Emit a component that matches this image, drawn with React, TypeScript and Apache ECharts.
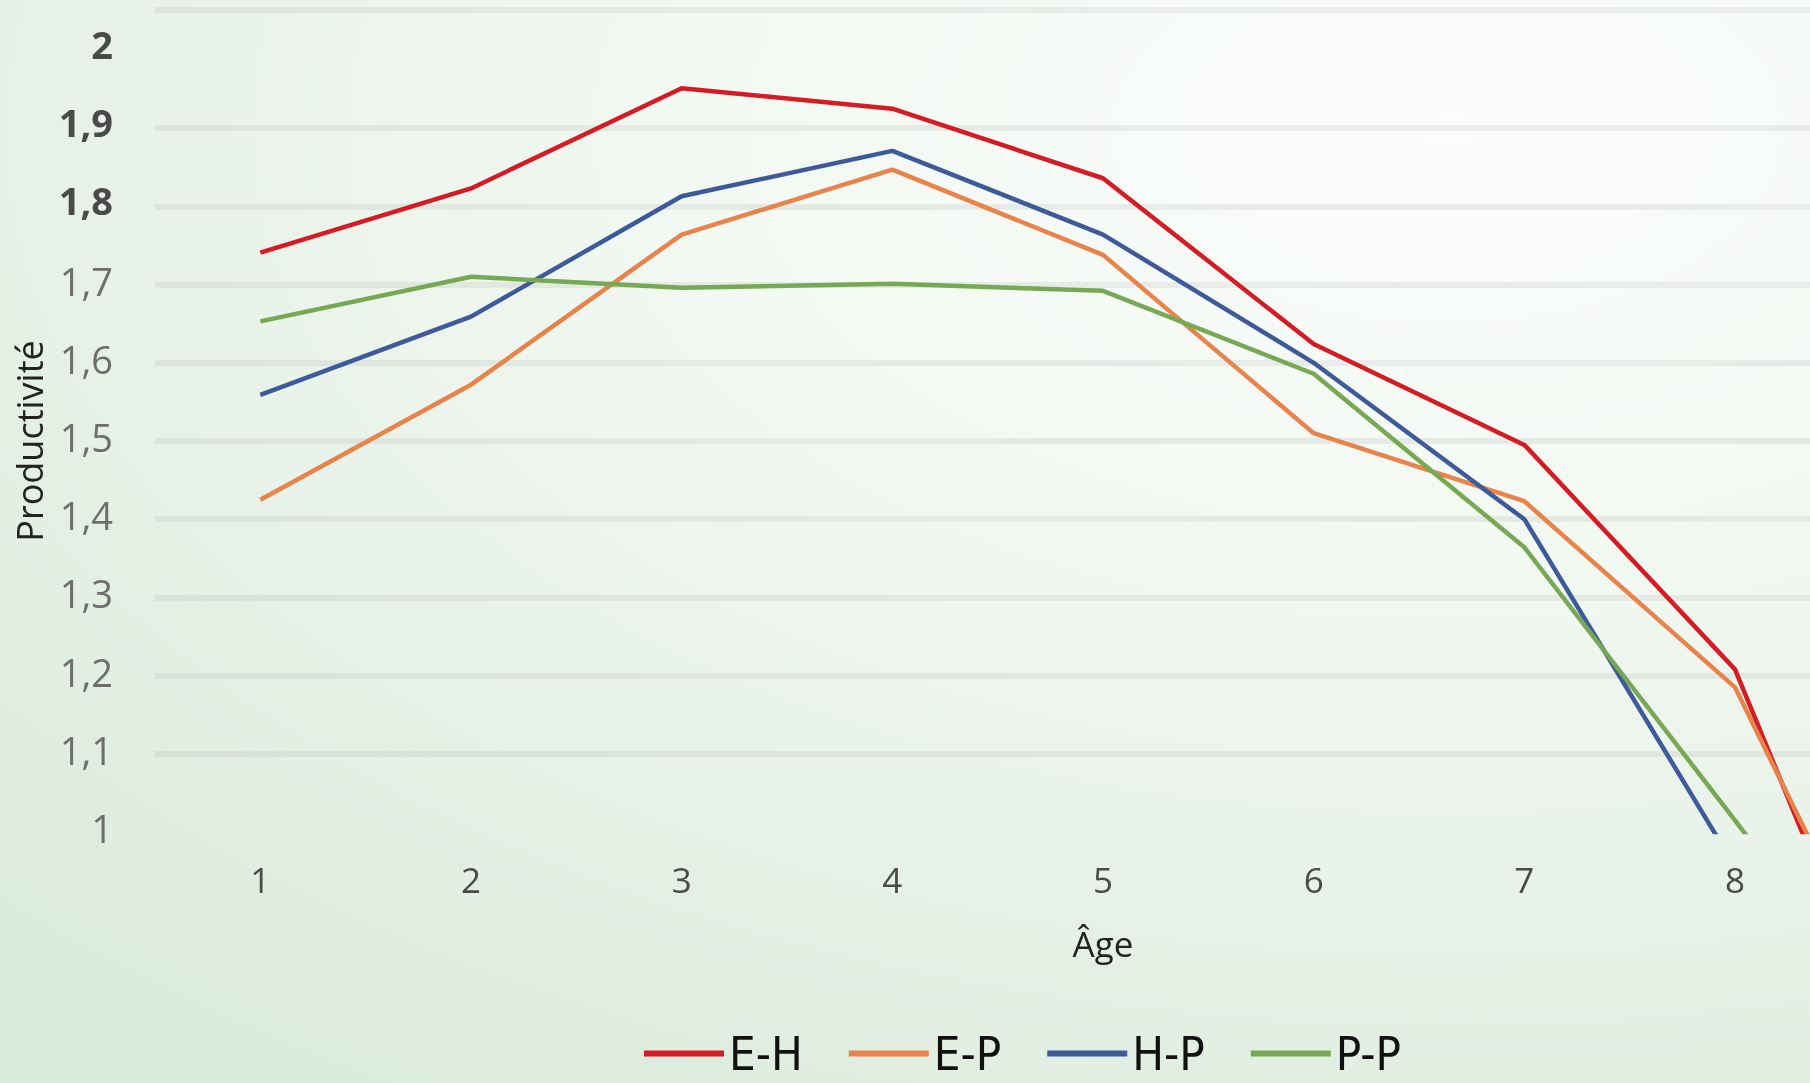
import React, { useEffect, useRef } from "react";
import * as echarts from "echarts";

const ages = ["1", "2", "3", "4", "5", "6", "7", "8", "9"];
const seriesNames = ["E-H", "E-P", "H-P", "P-P"];
const seriesColors = ["#d51b23", "#e8844b", "#3d5b99", "#77a955"];
const valuesEH = [1.741, 1.823, 1.951, 1.925, 1.836, 1.624, 1.495, 1.208, 0.554];
const valuesEP = [1.425, 1.572, 1.764, 1.847, 1.738, 1.51, 1.423, 1.185, 0.636];
const valuesHP = [1.559, 1.659, 1.813, 1.871, 1.764, 1.6, 1.4, 0.956, 0.6];
const valuesPP = [1.653, 1.71, 1.696, 1.701, 1.692, 1.586, 1.364, 1.015, 0.66];
const yMin = 1;
const yMax = 2;
const yStep = 0.1;

export default function App() {
  const ref = useRef<HTMLDivElement>(null);
  useEffect(() => {
    if (!ref.current) return;
    const chart = echarts.init(ref.current, null, { renderer: "svg" });
    const all = [valuesEH, valuesEP, valuesHP, valuesPP];
    chart.setOption({
      animation: false,
      backgroundColor: "transparent",
      textStyle: { fontFamily: "'Open Sans', sans-serif" },
      grid: { left: 155, top: 50, right: 9, bottom: 251, containLabel: false },
      graphic: [
        {
          type: "rect",
          shape: { x: 155, y: 7, width: 1700, height: 6 },
          style: { fill: "rgba(150,150,150,0.14)" },
          silent: true,
        },
      ],
      legend: {
        left: 644,
        top: 1030,
        padding: 0,
        itemWidth: 80,
        itemHeight: 6,
        itemGap: 46,
        icon: "rect",
        data: seriesNames,
        textStyle: {
          fontFamily: "'Liberation Sans Narrow', 'DejaVu Sans Condensed', sans-serif",
          fontSize: 47,
          color: "#111",
          lineHeight: 46,
        },
      },
      xAxis: {
        type: "category",
        data: ages,
        boundaryGap: true,
        name: "Âge",
        nameLocation: "middle",
        nameGap: 94,
        nameTextStyle: { fontSize: 35, color: "#222", fontFamily: "'Open Sans', sans-serif" },
        axisLine: { show: false },
        axisTick: { show: false },
        axisLabel: {
          fontSize: 35,
          color: "#4a4a4a",
          margin: 30,
          interval: (idx: number) => idx < 8,
        },
      },
      yAxis: {
        type: "value",
        min: yMin,
        max: yMax,
        interval: yStep,
        name: "Productivité",
        nameLocation: "middle",
        nameGap: 105,
        nameTextStyle: { fontSize: 36, color: "#222", fontFamily: "'Open Sans', sans-serif" },
        axisLine: { show: false },
        axisTick: { show: false },
        splitLine: {
          show: true,
          showMinLine: false,
          showMaxLine: false,
          lineStyle: { color: "rgba(150,150,150,0.14)", width: 6 },
        },
        axisLabel: {
          margin: 42,
          formatter: (v: number) => {
            const s = String(+v.toFixed(1)).replace(".", ",");
            return v >= 1.75 ? `{b|${s}}` : `{n|${s}}`;
          },
          rich: {
            b: { fontSize: 38, color: "#4a4a4a", fontWeight: "bold", padding: [0, 0, 12, 0], fontFamily: "'Open Sans', sans-serif" },
            n: { fontSize: 38, color: "#6e6e6e", padding: [0, 0, 8, 0], fontFamily: "'Open Sans', sans-serif" },
          },
        },
      },
      series: seriesNames.map((name, i) => ({
        name,
        type: "line",
        data: all[i],
        color: seriesColors[i],
        showSymbol: false,
        symbol: "none",
        clip: true,
        lineStyle: { width: 4.5, color: seriesColors[i] },
      })),
    });
    return () => chart.dispose();
  }, []);
  return (
    <div
      style={{
        position: "fixed",
        left: 0,
        top: 0,
        width: 1810,
        height: 1083,
        overflow: "hidden",
        background:
          "radial-gradient(ellipse 115% 110% at 80% 12%, #fbfdfb 0%, #f2f8f2 38%, #e5f0e5 72%, #d9eada 100%)",
      }}
    >
      <div ref={ref} style={{ position: "absolute", left: 0, top: 0, width: 2060, height: 1083 }} />
    </div>
  );
}
